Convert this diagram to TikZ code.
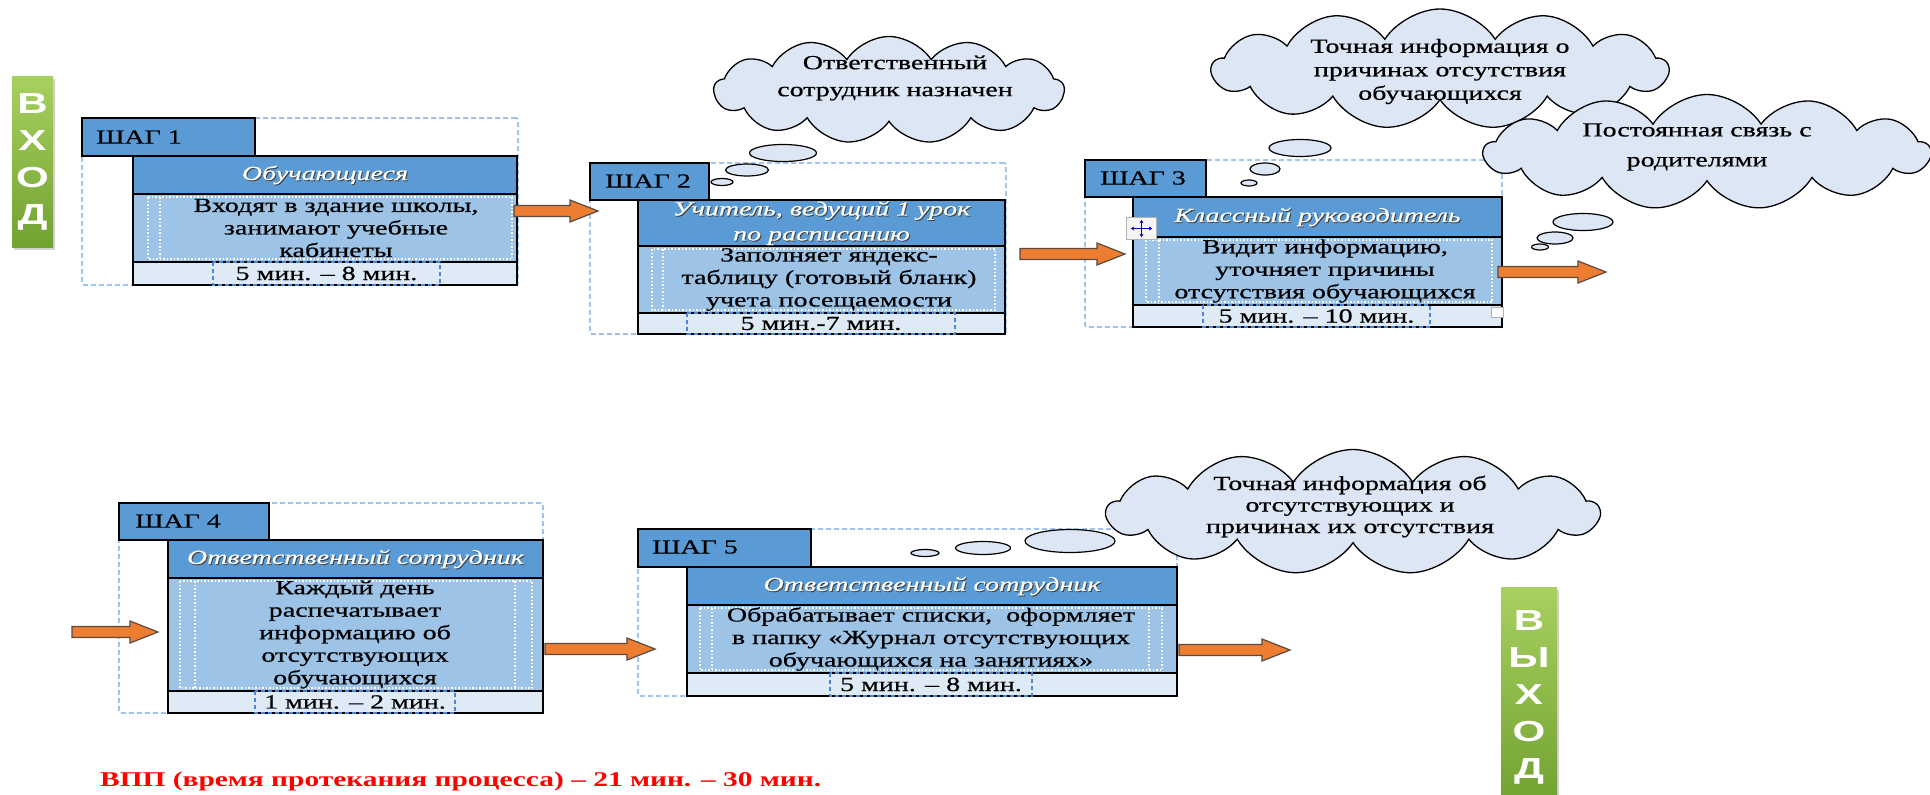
\documentclass[tikz,border=0pt]{standalone}
\usepackage{fontspec}
\setmainfont{Liberation Serif}[FakeStretch=1.4]
\newfontfamily\heavy{Liberation Serif}[FakeStretch=1.4, FakeBold=0.6]
\newfontfamily\barfont{Liberation Sans}[FakeStretch=1.45]
\usetikzlibrary{shapes.geometric,shapes.symbols,shadows,calc,arrows.meta}
\definecolor{hdrblue}{HTML}{5B9BD5}
\definecolor{bodyblue}{HTML}{9DC3E6}
\definecolor{timeblue}{HTML}{DEEBF7}
\definecolor{dashblue}{HTML}{6FA8E6}
\definecolor{timedashblue}{HTML}{4A86D8}
\definecolor{cloudfill}{HTML}{DDE6F4}
\definecolor{arroworange}{HTML}{ED7D31}
\definecolor{arrowedge}{HTML}{5A4A3F}
\definecolor{greentop}{HTML}{A8D060}
\definecolor{greenbot}{HTML}{72A232}
\newcommand\bodyfnt{\heavy\fontsize{20pt}{22.5pt}\selectfont}
\newcommand\blockarrow[2]{\draw[blockarr] let \p1=(#1), \p2=(#2) in
  (\x1,\y1+5.5pt) -- (\x2-28pt,\y1+5.5pt) -- (\x2-28pt,\y1+11pt) -- (\x2,\y1)
  -- (\x2-28pt,\y1-11pt) -- (\x2-28pt,\y1-5.5pt) -- (\x1,\y1-5.5pt) -- cycle;}
\tikzset{
 cell/.style={draw=black, line width=1.4pt, anchor=north west, inner sep=0pt, outer sep=0pt},
 tabcell/.style={cell, fill=hdrblue},
 hdrcell/.style={cell, fill=hdrblue},
 bodycell/.style={cell, fill=bodyblue},
 timecell/.style={cell, fill=timeblue},
 outerdash/.style={draw=dashblue, line width=1.2pt, dash pattern=on 5pt off 3pt, rounded corners=2pt, anchor=north west, inner sep=0pt, outer sep=0pt},
 whitedot/.style={draw=white, line width=1.1pt, dash pattern=on 1.5pt off 2pt},
 timedash/.style={draw=timedashblue, line width=1.1pt, dash pattern=on 4pt off 3pt},
 tabtxt/.style={anchor=west, inner sep=0pt, font=\heavy\fontsize{20pt}{22pt}\selectfont},
 hdrtxt/.style={align=center, inner sep=0pt, text=white, font=\heavy\itshape\fontsize{20pt}{25pt}\selectfont},
 hdrshadow/.style={hdrtxt, text=black!75, xshift=1pt, yshift=-1pt},
 bodytxt/.style={align=center, inner sep=0pt, font=\bodyfnt},
 timetxt/.style={inner sep=0pt, font=\heavy\fontsize{20pt}{22pt}\selectfont},
 blockarr/.style={draw=arrowedge, line width=1.2pt, fill=arroworange, line join=miter},
 cloudshape/.style={cloud, cloud puffs=13, cloud puff arc=115, cloud ignores aspect, draw=black, line width=1.3pt, fill=cloudfill, inner sep=0pt},
 bubble/.style={ellipse, draw=black, line width=1.2pt, fill=cloudfill, inner sep=0pt},
 cloudtxt/.style={align=center, inner sep=0pt},
 greenbar/.style={anchor=north west, inner sep=0pt, top color=greentop, bottom color=greenbot, drop shadow={opacity=0.35, shadow xshift=2pt, shadow yshift=-3pt}},
 bartxt/.style={align=center, inner sep=0pt, text=white, font=\barfont\bfseries\fontsize{29pt}{37pt}\selectfont},
}
\begin{document}
\begin{tikzpicture}[x=1pt,y=-1pt]
\useasboundingbox (0,0) rectangle (1930,795);
\fill[white] (0,0) rectangle (1930,795);
\begin{scope}
\clip (0,0) rectangle (1930,795);

% ВХОД
\node[greenbar, minimum width=41pt, minimum height=171pt] (vhodbar) at (12,76) {};
\node[bartxt] (vhod) at (32.5,162) {В\\Х\\О\\Д};

% STEP 1
\node[outerdash, minimum width=436pt, minimum height=167pt] (o1) at (82,118) {};
\node[tabcell, minimum width=173pt, minimum height=38pt] (t1) at (82,118) {};
\node[hdrcell, minimum width=384pt, minimum height=38pt] (h1) at (133,156) {};
\node[bodycell, minimum width=384pt, minimum height=68pt] (b1) at (133,194) {};
\node[timecell, minimum width=384pt, minimum height=23pt] (m1) at (133,262) {};
\draw[whitedot] (148,197) rectangle (512,259) (160,197) -- (160,259);
\draw[timedash] (213,262) rectangle (440,285);
\node[tabtxt] (t1x) at (96,137) {ШАГ 1};
\node[hdrshadow] (h1s) at (h1.center) {Обучающиеся};
\node[hdrtxt] (h1x) at (h1.center) {Обучающиеся};
\node[bodytxt] (b1x) at (336,228) {Входят в здание школы,\\занимают учебные\\кабинеты};
\node[timetxt] (m1x) at (326.5,273.5) {5 мин. – 8 мин.};

% STEP 2
\node[outerdash, minimum width=416pt, minimum height=171pt] (o2) at (590,163) {};
\node[tabcell, minimum width=119pt, minimum height=37pt] (t2) at (590,163) {};
\node[hdrcell, minimum width=367pt, minimum height=46pt] (h2) at (638,200) {};
\node[bodycell, minimum width=367pt, minimum height=67pt] (b2) at (638,246) {};
\node[timecell, minimum width=367pt, minimum height=21pt] (m2) at (638,313) {};
\draw[whitedot] (652,249) rectangle (995,310) (663,249) -- (663,310);
\draw[timedash] (687,313) rectangle (955,334);
\node[tabtxt] (t2x) at (605,181) {ШАГ 2};
\node[hdrshadow] (h2s) at (h2.center) {Учитель, ведущий 1 урок\\по расписанию};
\node[hdrtxt] (h2x) at (h2.center) {Учитель, ведущий 1 урок\\по расписанию};
\node[bodytxt] (b2x) at (829,279.5) {Заполняет яндекс-\\таблицу (готовый бланк)\\учета посещаемости};
\node[timetxt] (m2x) at (821,323.5) {5 мин.-7 мин.};

% STEP 3
\node[outerdash, minimum width=417pt, minimum height=167pt] (o3) at (1085,160) {};
\node[tabcell, minimum width=121pt, minimum height=37pt] (t3) at (1085,160) {};
\node[hdrcell, minimum width=369pt, minimum height=40pt] (h3) at (1133,197) {};
\node[bodycell, minimum width=369pt, minimum height=68pt] (b3) at (1133,237) {};
\node[timecell, minimum width=369pt, minimum height=22pt] (m3) at (1133,305) {};
\draw[whitedot] (1146,240) rectangle (1492,302) (1159,240) -- (1159,302);
\draw[timedash] (1203,305) rectangle (1430,327);
\node[tabtxt] (t3x) at (1100,178) {ШАГ 3};
\node[hdrshadow] (h3s) at (h3.center) {Классный руководитель};
\node[hdrtxt] (h3x) at (h3.center) {Классный руководитель};
\node[bodytxt] (b3x) at (1325,271) {Видит информацию,\\уточняет причины\\отсутствия обучающихся};
\node[timetxt] (m3x) at (1316.5,316) {5 мин. – 10 мин.};
\node[draw=gray!60, fill=gray!8, line width=1pt, anchor=north west, inner sep=0pt, minimum width=30pt, minimum height=22pt] (moveicon) at (1126,217) {};
\draw[blue!70!black, line width=0.9pt, {Stealth[length=3pt,width=4pt]}-{Stealth[length=3pt,width=4pt]}] ([xshift=5pt]moveicon.west) -- ([xshift=-5pt]moveicon.east);
\draw[blue!70!black, line width=0.9pt, {Stealth[length=3pt,width=4pt]}-{Stealth[length=3pt,width=4pt]}] ([yshift=-3pt]moveicon.north) -- ([yshift=3pt]moveicon.south);
\node[draw=gray!60, fill=white, line width=1pt, anchor=north west, inner sep=0pt, minimum width=12pt, minimum height=10pt] (handle) at (1491,307) {};

% STEP 4
\node[outerdash, minimum width=424pt, minimum height=210pt] (o4) at (119,503) {};
\node[tabcell, minimum width=150pt, minimum height=37pt] (t4) at (119,503) {};
\node[hdrcell, minimum width=375pt, minimum height=38pt] (h4) at (168,540) {};
\node[bodycell, minimum width=375pt, minimum height=113pt] (b4) at (168,578) {};
\node[timecell, minimum width=375pt, minimum height=22pt] (m4) at (168,691) {};
\draw[whitedot] (180,581) rectangle (532,688) (195,581) -- (195,688) (515,581) -- (515,688);
\draw[timedash] (255,691) rectangle (455,713);
\node[tabtxt] (t4x) at (135,521) {ШАГ 4};
\node[hdrshadow] (h4s) at (h4.center) {Ответственный сотрудник};
\node[hdrtxt] (h4x) at (h4.center) {Ответственный сотрудник};
\node[bodytxt] (b4x) at (355,634.5) {Каждый день\\распечатывает\\информацию об\\отсутствующих\\обучающихся};
\node[timetxt] (m4x) at (355,702) {1 мин. – 2 мин.};

% STEP 5
\node[outerdash, minimum width=539pt, minimum height=167pt] (o5) at (638,529) {};
\node[tabcell, minimum width=173pt, minimum height=38pt] (t5) at (638,529) {};
\node[hdrcell, minimum width=490pt, minimum height=38pt] (h5) at (687,567) {};
\node[bodycell, minimum width=490pt, minimum height=68pt] (b5) at (687,605) {};
\node[timecell, minimum width=490pt, minimum height=23pt] (m5) at (687,673) {};
\draw[whitedot] (700,608) rectangle (1162,670) (712,608) -- (712,670) (1149,608) -- (1149,670);
\draw[timedash] (830,673) rectangle (1032,696);
\node[tabtxt] (t5x) at (652,547) {ШАГ 5};
\node[hdrshadow] (h5s) at (h5.center) {Ответственный сотрудник};
\node[hdrtxt] (h5x) at (h5.center) {Ответственный сотрудник};
\node[bodytxt] (b5x) at (931,639) {Обрабатывает списки,\ \ оформляет\\в папку «Журнал отсутствующих\\обучающихся на занятиях»};
\node[timetxt] (m5x) at (931,684.5) {5 мин. – 8 мин.};

% ARROWS
\coordinate (a1s) at (514,211);  \coordinate (a1e) at (598,211);
\coordinate (a2s) at (1020,254); \coordinate (a2e) at (1125,254);
\coordinate (a3s) at (1498,272); \coordinate (a3e) at (1606,272);
\coordinate (a4s) at (72,632);   \coordinate (a4e) at (158,632);
\coordinate (a5s) at (545,649);  \coordinate (a5e) at (655,649);
\coordinate (a6s) at (1179,650); \coordinate (a6e) at (1290,650);
\blockarrow{a1s}{a1e}
\blockarrow{a2s}{a2e}
\blockarrow{a3s}{a3e}
\blockarrow{a4s}{a4e}
\blockarrow{a5s}{a5e}
\blockarrow{a6s}{a6e}

% CLOUD 1
\node[cloudshape, minimum width=350pt, minimum height=107pt] (c1) at (889,90) {};
\node[cloudtxt, font=\heavy\fontsize{20pt}{27pt}\selectfont] (c1x) at (895,78) {Ответственный\\сотрудник назначен};
\node[bubble, minimum width=67pt, minimum height=17pt] (c1b1) at (783,153) {};
\node[bubble, minimum width=43pt, minimum height=12pt] (c1b2) at (747,170) {};
\node[bubble, minimum width=22pt, minimum height=7pt] (c1b3) at (722,182) {};

% CLOUD 2
\node[cloudshape, minimum width=456pt, minimum height=120pt] (c2) at (1440,69) {};
\node[cloudtxt, font=\heavy\fontsize{20pt}{23.5pt}\selectfont] (c2x) at (1440,71.5) {Точная информация о\\причинах отсутствия\\обучающихся};
\node[bubble, minimum width=62pt, minimum height=17pt] (c2b1) at (1300,148) {};
\node[bubble, minimum width=30pt, minimum height=12pt] (c2b2) at (1265,169) {};
\node[bubble, minimum width=16pt, minimum height=6pt] (c2b3) at (1249,183) {};

% CLOUD 3
\node[cloudshape, minimum width=446pt, minimum height=115pt] (c3) at (1707,152) {};
\node[cloudtxt, font=\heavy\fontsize{20pt}{30pt}\selectfont] (c3x) at (1697,147) {Постоянная связь с\\родителями};
\node[bubble, minimum width=60pt, minimum height=17pt] (c3b1) at (1583,222) {};
\node[bubble, minimum width=36pt, minimum height=12pt] (c3b2) at (1555,238) {};
\node[bubble, minimum width=17pt, minimum height=6pt] (c3b3) at (1540,247) {};

% CLOUD 4
\node[cloudshape, minimum width=492pt, minimum height=125pt] (c4) at (1353,512) {};
\node[cloudtxt, font=\heavy\fontsize{20pt}{21.5pt}\selectfont] (c4x) at (1350,506.5) {Точная информация об\\отсутствующих и\\причинах их отсутствия};
\node[bubble, minimum width=90pt, minimum height=23pt] (c4b1) at (1070,541) {};
\node[bubble, minimum width=55pt, minimum height=13pt] (c4b2) at (983,548) {};
\node[bubble, minimum width=28pt, minimum height=7pt] (c4b3) at (925,553) {};

% ВЫХОД
\node[greenbar, minimum width=56pt, minimum height=215pt] (vyhodbar) at (1501,587) {};
\node[bartxt] (vyhod) at (1529,697) {В\\Ы\\Х\\О\\Д};

% FOOTER
\node[anchor=west, inner sep=0pt, text=red, font=\bfseries\fontsize{21pt}{22pt}\selectfont] (vpp) at (100,781) {ВПП (время протекания процесса) – 21 мин. – 30 мин.};
\end{scope}
\end{tikzpicture}
\end{document}
